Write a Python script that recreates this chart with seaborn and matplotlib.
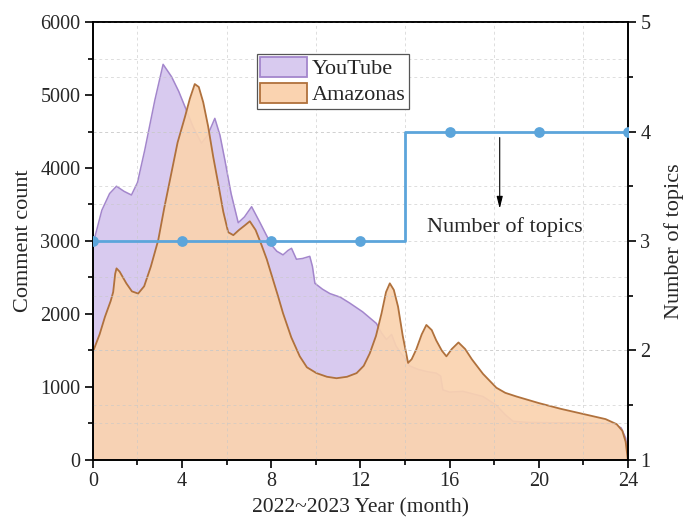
import matplotlib
matplotlib.use("Agg")
import matplotlib.pyplot as plt
import matplotlib.patches as mpatches
from matplotlib.ticker import MultipleLocator
import seaborn as sns
import pandas as pd

# Monthly comment volume, YouTube
yt_month = [0, 0.4, 0.75, 1.06, 1.4, 1.73, 2.0, 2.33, 2.78, 3.15, 3.53, 3.85, 4.13, 4.5,
            4.87, 5.15, 5.47, 5.7, 5.92, 6.2, 6.52, 6.8, 7.12, 7.5, 8.0, 8.25, 8.53, 8.75,
            8.91, 9.13, 9.4, 9.73, 9.85, 9.96, 10.3, 10.63, 11.1, 11.52, 12.1, 12.72, 12.95,
            13.17, 13.4, 13.6, 13.85, 14.07, 14.2, 14.6, 15.0, 15.4, 15.6, 15.7, 16.0, 16.6,
            17.5, 18.1, 18.5, 18.85, 19.5, 20.5, 21.5, 22.5, 23.3, 23.7, 23.9, 24.0]
yt_count = [2950, 3420, 3650, 3750, 3680, 3630, 3800, 4250, 4930, 5420, 5250, 5050, 4840, 4560,
            4340, 4450, 4680, 4450, 4110, 3650, 3250, 3330, 3470, 3250, 2950, 2860, 2810, 2870,
            2900, 2750, 2760, 2790, 2650, 2420, 2340, 2280, 2230, 2150, 2030, 1870, 1740,
            1650, 1720, 1560, 1450, 1370, 1290, 1240, 1210, 1190, 1150, 960, 930, 940,
            870, 750, 620, 530, 515, 510, 510, 505, 500, 440, 300, 0]

# Monthly comment volume, Amazonas
am_month = [0, 0.3, 0.54, 0.8, 0.91, 1.0, 1.06, 1.2, 1.5, 1.75, 2.03, 2.3, 2.6, 2.93, 3.2, 3.5,
            3.8, 4.13, 4.35, 4.57, 4.75, 4.95, 5.17, 5.4, 5.62, 5.85, 6.07, 6.3, 6.55, 6.8,
            7.04, 7.3, 7.56, 7.8, 8.05, 8.3, 8.53, 8.9, 9.28, 9.6, 10.03, 10.5, 10.93, 11.4,
            11.83, 12.15, 12.42, 12.7, 12.95, 13.15, 13.32, 13.5, 13.69, 13.9, 14.14, 14.3,
            14.5, 14.75, 14.96, 15.2, 15.4, 15.65, 15.86, 16.1, 16.4, 16.7, 17.0, 17.5, 18.1,
            18.5, 19.0, 20.0, 21.0, 22.0, 23.0, 23.5, 23.75, 23.9, 24.0]
am_count = [1480, 1720, 1960, 2180, 2300, 2550, 2625, 2580, 2420, 2310, 2280, 2380, 2650, 3010,
            3450, 3900, 4350, 4700, 4950, 5150, 5110, 4900, 4570, 4150, 3790, 3400, 3120, 3080,
            3150, 3210, 3270, 3150, 2950, 2750, 2500, 2250, 2010, 1680, 1420, 1270, 1190, 1140,
            1120, 1140, 1190, 1290, 1460, 1700, 2010, 2300, 2420, 2330, 2100, 1700, 1330, 1380,
            1510, 1720, 1850, 1780, 1640, 1500, 1420, 1520, 1610, 1520, 1380, 1180, 990,
            920, 870, 780, 700, 630, 560, 490, 400, 250, 0]

# Number of topics (changes from 3 to 4 at month 14)
topic_step_month = [0, 4, 8, 12, 14, 16, 20, 24]
topic_step_value = [3, 3, 3, 3, 4, 4, 4, 4]
topic_month = [0, 4, 8, 12, 16, 20, 24]
topic_value = [3, 3, 3, 3, 4, 4, 4]

sns.set_theme(style="ticks")
plt.rcParams["font.family"] = ["Liberation Serif", "DejaVu Serif"]

PURPLE_FILL = "#d8caef"
PURPLE_LINE = "#a386cc"
ORANGE_FILL = "#fad3b0"
ORANGE_LINE = "#b0713c"
BLUE = "#5ca5db"
GRID = "#c8c8c8"

yt = pd.DataFrame({"month": yt_month, "count": yt_count})
am = pd.DataFrame({"month": am_month, "count": am_count})
topics_step = pd.DataFrame({"month": topic_step_month, "topics": topic_step_value})
topics = pd.DataFrame({"month": topic_month, "topics": topic_value})

fig = plt.figure(figsize=(6.83, 5.19), dpi=100)
ax = fig.add_axes([0.136, 0.1137, 0.7833, 0.8439])

# Area curves
ax.fill_between(yt["month"], 0, yt["count"], color=PURPLE_FILL, lw=0, zorder=1)
sns.lineplot(data=yt, x="month", y="count", ax=ax, color=PURPLE_LINE, lw=1.1, zorder=1.2)
ax.fill_between(am["month"], 0, am["count"], color=ORANGE_FILL, alpha=0.93, lw=0, zorder=1.4)
sns.lineplot(data=am, x="month", y="count", ax=ax, color=ORANGE_LINE, lw=1.3, zorder=1.6)

ax.set_xlim(0, 24)
ax.set_ylim(0, 6000)
ax.xaxis.set_major_locator(MultipleLocator(4))
ax.xaxis.set_minor_locator(MultipleLocator(2))
ax.yaxis.set_major_locator(MultipleLocator(1000))
ax.yaxis.set_minor_locator(MultipleLocator(500))
ax.set_xlabel("2022~2023 Year (month)", fontsize=15.5, labelpad=5)
ax.set_ylabel("Comment count", fontsize=16, labelpad=5)

ax.set_axisbelow(False)
ax.grid(False)
ax.grid(which="minor", axis="both", color=GRID, ls=(0, (3, 3)), lw=0.7, alpha=0.6)

# Topic count on the secondary axis
ax2 = ax.twinx()
ax2.set_ylim(1, 5)
ax2.yaxis.set_major_locator(MultipleLocator(1))
ax2.yaxis.set_minor_locator(MultipleLocator(0.5))
ax2.grid(False)
ax2.grid(which="both", axis="y", color=GRID, ls=(0, (3, 3)), lw=0.7, alpha=0.6)
sns.lineplot(data=topics_step, x="month", y="topics", ax=ax2, color=BLUE, lw=2.0,
             drawstyle="steps-post", zorder=3)
sns.scatterplot(data=topics, x="month", y="topics", ax=ax2, color=BLUE, s=60,
                edgecolor=BLUE, linewidth=0, zorder=4)
ax2.set_ylabel("Number of topics", fontsize=16, labelpad=10)
ax2.set_xlabel("")

ax2.annotate("", xy=(18.25, 3.27), xytext=(18.25, 3.97),
             arrowprops=dict(arrowstyle="-|>,head_length=0.6,head_width=0.15",
                             color="black", lw=0.8))
ax2.text(18.5, 3.13, "Number of topics", fontsize=16, ha="center", va="center")

for a in (ax, ax2):
    for s in a.spines.values():
        s.set_linewidth(1.2)
        s.set_color("black")
    a.tick_params(which="major", direction="out", length=6, width=1.2,
                  labelsize=14.5, color="black", pad=3)
    a.tick_params(which="minor", direction="out", length=3.5, width=1.2, color="black")
ax.tick_params(axis="x", which="both", top=False)
ax.tick_params(axis="y", which="both", right=False)

handles = [mpatches.Patch(facecolor=PURPLE_FILL, edgecolor=PURPLE_LINE, lw=1.3, label="YouTube"),
           mpatches.Patch(facecolor=ORANGE_FILL, edgecolor=ORANGE_LINE, lw=1.3, label="Amazonas")]
leg = ax2.legend(handles=handles, loc="upper left", bbox_to_anchor=(0.306, 0.928),
                 fontsize=16, frameon=True, fancybox=False, edgecolor="#555555",
                 framealpha=1, borderpad=0.15, labelspacing=0.15, handlelength=2.1,
                 handleheight=1.0, handletextpad=0.25, borderaxespad=0)
leg.get_frame().set_linewidth(0.9)

fig.savefig("out.png", dpi=100)
